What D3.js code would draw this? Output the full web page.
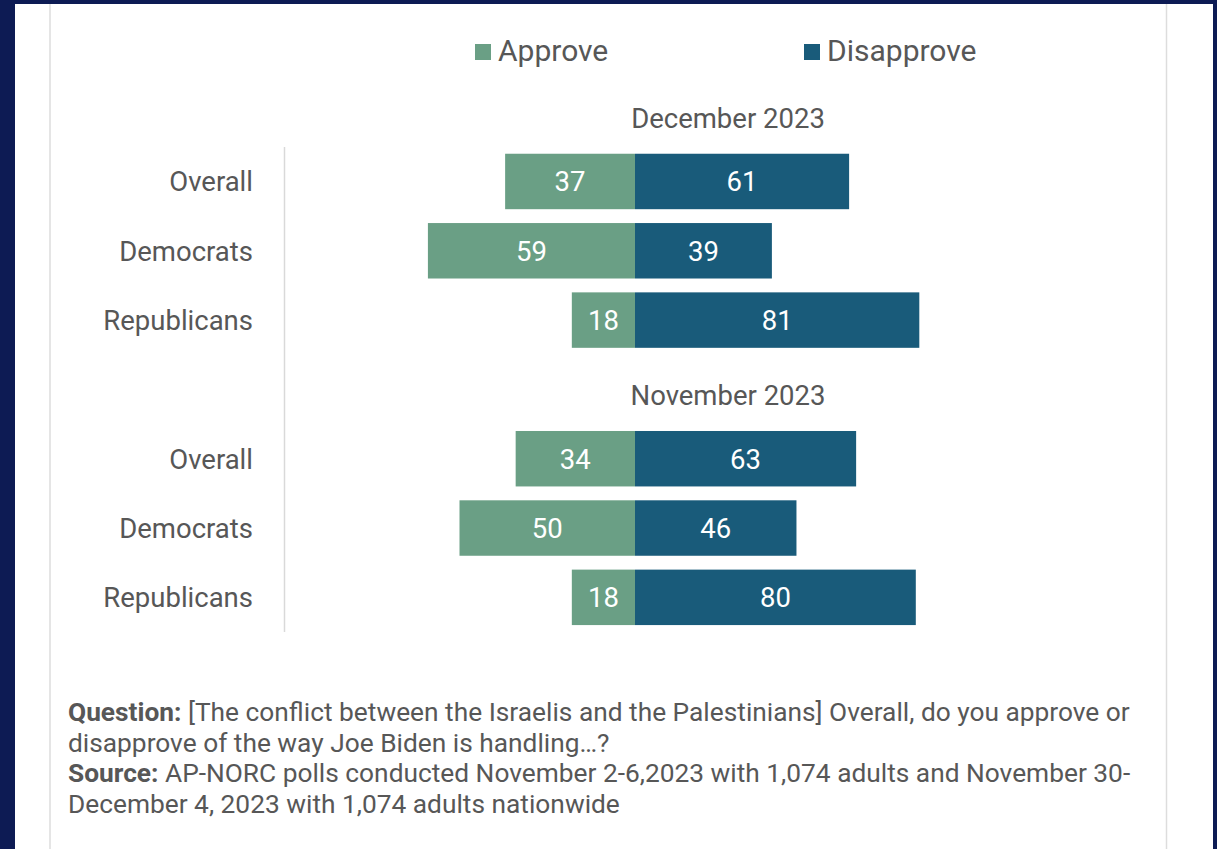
<!DOCTYPE html>
<html>
<head>
<meta charset="utf-8">
<script src="https://cdn.jsdelivr.net/npm/d3@7"></script>
<style>
  html, body { margin: 0; padding: 0; background: #0d1b54; }
  svg { display: block; }
</style>
</head>
<body>
<svg id="chart" width="1217" height="849"></svg>
<script>
// ---- data ----
const groups = ["December 2023", "November 2023"];
const categories = ["Overall", "Democrats", "Republicans"];
const seriesNames = ["Approve", "Disapprove"];
const approveDec = [37, 59, 18];
const disapproveDec = [61, 39, 81];
const approveNov = [34, 50, 18];
const disapproveNov = [63, 46, 80];
const colors = ["#6a9f85", "#195b7a"];
const noteLines = [
  [{b: "Question:"}, {t: " [The conflict between the Israelis and the Palestinians] Overall, do you approve or"}],
  [{t: "disapprove of the way Joe Biden is handling…?"}],
  [{b: "Source:"}, {t: " AP-NORC polls conducted November 2-6,2023 with 1,074 adults and November 30-"}],
  [{t: "December 4, 2023 with 1,074 adults nationwide"}]
];

const rows = [];
const approveAll = [approveDec, approveNov];
const disapproveAll = [disapproveDec, disapproveNov];
groups.forEach((g, gi) => {
  categories.forEach((c, ci) => {
    rows.push({key: gi * 4 + ci, group: g, cat: c, approve: approveAll[gi][ci], disapprove: disapproveAll[gi][ci]});
  });
});

const svg = d3.select("#chart");
const font = "Roboto, 'Liberation Sans', sans-serif";
const textColor = "#575757";

// white panel
svg.append("rect").attr("x", 15).attr("y", 4).attr("width", 1198).attr("height", 845).attr("fill", "#ffffff");
svg.append("line").attr("x1", 50).attr("x2", 50).attr("y1", 4).attr("y2", 849).attr("stroke", "#dddddd").attr("stroke-width", 1.5);
svg.append("line").attr("x1", 1166.5).attr("x2", 1166.5).attr("y1", 4).attr("y2", 849).attr("stroke", "#dddddd").attr("stroke-width", 1.5);

// scales
const x = d3.scaleLinear().domain([-100, 100]).range([284, 986]);
const slots = d3.range(-1, 7);
const y = d3.scaleBand().domain(slots).range([77.5, 632]).paddingInner(0.2).paddingOuter(0.1);
const yc = k => y(k) + y.bandwidth() / 2;

// axis line
svg.append("line").attr("x1", 284.5).attr("x2", 284.5).attr("y1", 147).attr("y2", 632)
  .attr("stroke", "#d9d9d9").attr("stroke-width", 1.5);

// group titles
groups.forEach((g, gi) => {
  svg.append("text").attr("x", 728).attr("y", y(gi * 4) - 26)
    .attr("text-anchor", "middle").attr("font-family", font).attr("font-size", 27.5)
    .attr("fill", textColor).text(g);
});

// category labels
svg.selectAll("text.cat").data(rows).enter().append("text").attr("class", "cat")
  .attr("x", 253).attr("y", d => yc(d.key) + 10)
  .attr("text-anchor", "end").attr("font-family", font).attr("font-size", 27.5)
  .attr("fill", textColor).text(d => d.cat);

// bars
svg.selectAll("rect.ap").data(rows).enter().append("rect").attr("class", "ap")
  .attr("x", d => x(-d.approve)).attr("width", d => x(0) - x(-d.approve))
  .attr("y", d => y(d.key)).attr("height", y.bandwidth()).attr("fill", colors[0]);
svg.selectAll("rect.dis").data(rows).enter().append("rect").attr("class", "dis")
  .attr("x", x(0)).attr("width", d => x(d.disapprove) - x(0))
  .attr("y", d => y(d.key)).attr("height", y.bandwidth()).attr("fill", colors[1]);

// value labels
svg.selectAll("text.apv").data(rows).enter().append("text").attr("class", "apv")
  .attr("x", d => (x(-d.approve) + x(0)) / 2).attr("y", d => yc(d.key) + 10)
  .attr("text-anchor", "middle").attr("font-family", font).attr("font-size", 27.5)
  .attr("fill", "#ffffff").text(d => d.approve);
svg.selectAll("text.disv").data(rows).enter().append("text").attr("class", "disv")
  .attr("x", d => (x(d.disapprove) + x(0)) / 2).attr("y", d => yc(d.key) + 10)
  .attr("text-anchor", "middle").attr("font-family", font).attr("font-size", 27.5)
  .attr("fill", "#ffffff").text(d => d.disapprove);

// legend
const legendX = [475, 804];
seriesNames.forEach((s, i) => {
  svg.append("rect").attr("x", legendX[i]).attr("y", 44).attr("width", 16).attr("height", 16).attr("fill", colors[i]);
  svg.append("text").attr("x", legendX[i] + 23).attr("y", 61)
    .attr("font-family", font).attr("font-size", 30).attr("fill", textColor).text(s);
});

// notes
noteLines.forEach((line, i) => {
  const t = svg.append("text").attr("x", 68).attr("y", 721 + i * 30.7)
    .attr("font-family", font).attr("font-size", 26.3).attr("fill", textColor);
  line.forEach(p => {
    if (p.b) t.append("tspan").attr("font-weight", "bold").text(p.b);
    else t.append("tspan").text(p.t);
  });
});
</script>
</body>
</html>
